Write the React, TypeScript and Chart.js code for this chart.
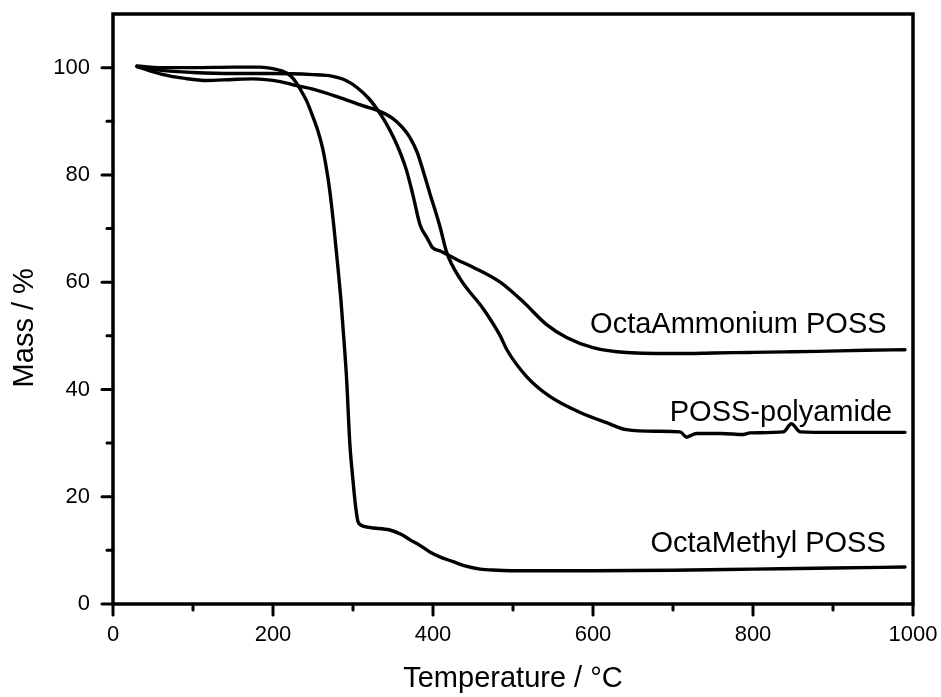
import { useEffect, useRef } from "react";
import { Chart, registerables } from "chart.js";

Chart.register(...registerables);

// ---- Data (temperature in °C, mass in %) ----
const ammoniumTemp = [30, 60, 100, 150, 200, 250, 270, 290, 305, 320, 330, 340, 350, 360, 367, 375, 384, 392, 396, 399, 409, 430, 450, 484, 513, 542, 567, 600, 642, 709, 750, 796, 840, 880, 940, 990];
const ammoniumMass = [100.2, 99.5, 99.1, 98.9, 98.9, 98.7, 98.5, 97.7, 96.3, 94.2, 92.3, 90.0, 87.2, 83.8, 80.8, 76.2, 70.6, 68.4, 67.3, 66.5, 65.8, 64.2, 62.8, 60.0, 56.3, 52.1, 49.7, 47.8, 46.9, 46.7, 46.8, 46.9, 47.0, 47.1, 47.3, 47.4];

const polyamideTemp = [30, 60, 90, 117, 150, 175, 209, 225, 250, 280, 312, 334, 350, 362, 371, 380, 388, 396, 409, 417, 434, 463, 484, 492, 517, 546, 584, 617, 642, 680, 709, 717, 722, 730, 760, 788, 796, 838, 848, 859, 900, 990];
const polyamideMass = [100.2, 98.8, 98.0, 97.6, 97.8, 97.9, 97.4, 96.8, 96.0, 94.6, 92.9, 91.8, 90.5, 88.8, 87.0, 84.3, 80.6, 76.6, 70.2, 65.6, 60.6, 55.0, 50.0, 47.5, 42.4, 38.7, 35.7, 33.8, 32.5, 32.2, 32.1, 31.1, 31.4, 31.8, 31.8, 31.6, 31.9, 32.1, 33.6, 32.1, 32.0, 32.0];

const methylTemp = [30, 60, 100, 150, 184, 200, 217, 225, 234, 242, 250, 256, 262, 267, 271, 276, 281, 285, 288, 292, 296, 300, 303, 306, 309, 320, 346, 360, 371, 385, 396, 410, 425, 440, 459, 480, 500, 600, 700, 800, 900, 990];
const methylMass = [100.3, 100.0, 100.0, 100.1, 100.1, 99.8, 99.0, 98.0, 96.0, 93.8, 90.8, 88.3, 85.0, 81.0, 77.0, 70.5, 63.0, 56.5, 50.6, 42.0, 30.0, 23.0, 18.5, 15.5, 14.8, 14.3, 13.8, 13.0, 12.0, 10.8, 9.7, 8.7, 7.9, 7.1, 6.5, 6.3, 6.2, 6.2, 6.3, 6.5, 6.7, 6.9];

const seriesNames = ["OctaAmmonium POSS", "POSS-polyamide", "OctaMethyl POSS"];

// tick values
const xMajorTicks = [0, 200, 400, 600, 800, 1000];
const xMinorTicks = [100, 300, 500, 700, 900];
const yMajorTicks = [0, 20, 40, 60, 80, 100];
const yMinorTicks = [10, 30, 50, 70, 90];

// label anchors (right edge x in °C, vertical centre in %)
const labelAnchorX = [967, 974, 966];
const labelAnchorY = [52.5, 36.1, 11.6];

const xTitle = "Temperature / °C";
const yTitle = "Mass / %";

const FONT = "'Liberation Sans', Arial, sans-serif";

function toPoints(xs: number[], ys: number[]) {
  return xs.map((x, i) => ({ x, y: ys[i] }));
}

export default function App() {
  const canvasRef = useRef<HTMLCanvasElement | null>(null);

  useEffect(() => {
    const canvas = canvasRef.current;
    if (!canvas) return;

    const framePlugin = {
      id: "framePlugin",
      afterDraw(chart: any) {
        const { ctx, chartArea: a, scales } = chart;
        const xs = scales.x;
        const ys = scales.y;
        ctx.save();
        ctx.strokeStyle = "#000";
        ctx.fillStyle = "#000";
        // frame
        ctx.lineWidth = 3.5;
        ctx.lineCap = "square";
        ctx.strokeRect(a.left, a.top, a.right - a.left, a.bottom - a.top);
        // ticks
        ctx.lineWidth = 3;
        ctx.lineCap = "round";
        const drawLine = (x1: number, y1: number, x2: number, y2: number) => {
          ctx.beginPath();
          ctx.moveTo(x1, y1);
          ctx.lineTo(x2, y2);
          ctx.stroke();
        };
        xMajorTicks.forEach((v) => {
          const p = xs.getPixelForValue(v);
          drawLine(p, a.bottom, p, a.bottom + 11);
        });
        xMinorTicks.forEach((v) => {
          const p = xs.getPixelForValue(v);
          drawLine(p, a.bottom, p, a.bottom + 6);
        });
        yMajorTicks.forEach((v) => {
          const p = ys.getPixelForValue(v);
          drawLine(a.left, p, a.left - 11, p);
        });
        yMinorTicks.forEach((v) => {
          const p = ys.getPixelForValue(v);
          drawLine(a.left, p, a.left - 6, p);
        });

        // curve labels
        ctx.font = `29px ${FONT}`;
        ctx.textAlign = "right";
        ctx.textBaseline = "alphabetic";
        seriesNames.forEach((name, i) => {
          const px = xs.getPixelForValue(labelAnchorX[i]);
          const py = ys.getPixelForValue(labelAnchorY[i]);
          ctx.fillText(name, px, py + 0.358 * 29);
        });

        // axis titles
        ctx.font = `29px ${FONT}`;
        ctx.textAlign = "center";
        ctx.fillText(xTitle, (a.left + a.right) / 2, a.bottom + 83);
        ctx.save();
        ctx.translate(33, ys.getPixelForValue(51.5));
        ctx.rotate(-Math.PI / 2);
        ctx.fillText(yTitle, 0, 0);
        ctx.restore();

        ctx.restore();
      },
    };

    const lineStyle = {
      borderColor: "#000",
      borderWidth: 3.4,
      pointRadius: 0,
      fill: false,
      cubicInterpolationMode: "monotone" as const,
      borderCapStyle: "round" as const,
      borderJoinStyle: "round" as const,
    };

    const chart = new Chart(canvas, {
      type: "scatter",
      data: {
        datasets: [
          { label: seriesNames[0], data: toPoints(ammoniumTemp, ammoniumMass), showLine: true, ...lineStyle },
          { label: seriesNames[1], data: toPoints(polyamideTemp, polyamideMass), showLine: true, ...lineStyle },
          { label: seriesNames[2], data: toPoints(methylTemp, methylMass), showLine: true, ...lineStyle },
        ],
      },
      options: {
        animation: false,
        responsive: false,
        devicePixelRatio: 1,
        layout: { autoPadding: false, padding: { top: 14, right: 28, left: 0, bottom: 0 } },
        plugins: {
          legend: { display: false },
          tooltip: { enabled: false },
        },
        scales: {
          x: {
            type: "linear",
            min: 0,
            max: 1000,
            grid: { display: false, drawTicks: false },
            border: { display: false },
            afterBuildTicks: (scale: any) => {
              scale.ticks = xMajorTicks.map((v) => ({ value: v }));
            },
            afterFit: (scale: any) => {
              scale.height = 93;
              scale.paddingLeft = 0;
              scale.paddingRight = 0;
            },
            ticks: {
              color: "#000",
              padding: 18,
              maxRotation: 0,
              autoSkip: false,
              font: { family: FONT, size: 22 },
              callback: (v: any) => String(v),
            },
          },
          y: {
            type: "linear",
            min: 0,
            max: 110,
            grid: { display: false, drawTicks: false },
            border: { display: false },
            afterBuildTicks: (scale: any) => {
              scale.ticks = yMajorTicks.map((v) => ({ value: v }));
            },
            afterFit: (scale: any) => {
              scale.width = 113;
              scale.paddingTop = 0;
              scale.paddingBottom = 0;
            },
            ticks: {
              color: "#000",
              padding: 23,
              autoSkip: false,
              font: { family: FONT, size: 22 },
              callback: (v: any) => String(v),
            },
          },
        },
      },
      plugins: [framePlugin],
    } as any);

    return () => chart.destroy();
  }, []);

  return (
    <div style={{ position: "absolute", left: 0, top: 0, width: 941, height: 697, background: "#fff" }}>
      <canvas ref={canvasRef} width={941} height={697} style={{ display: "block" }} />
    </div>
  );
}
